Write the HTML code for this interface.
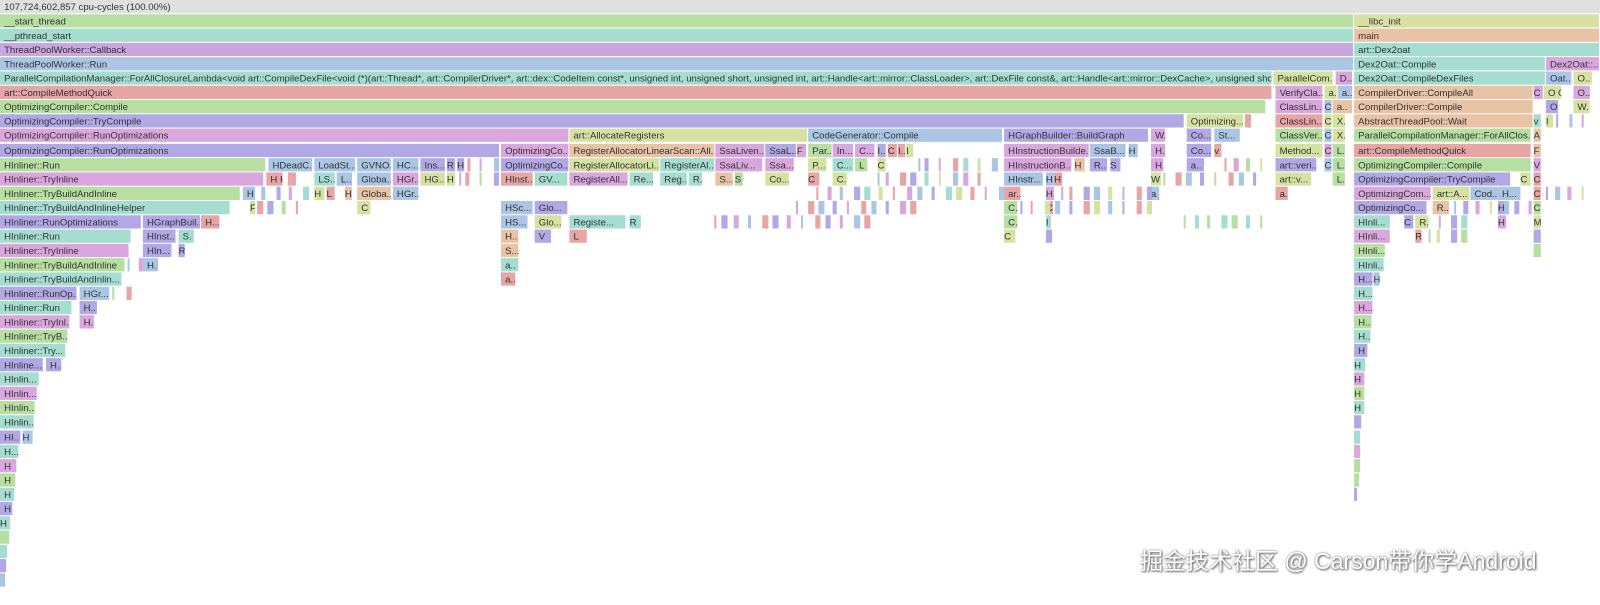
<!DOCTYPE html>
<html><head><meta charset="utf-8">
<style>
html,body{margin:0;padding:0;background:#fff;width:1600px;height:605px;overflow:hidden}
#c{position:absolute;left:0;top:0;width:1568px;height:593px;transform-origin:0 0;transform:scale(1.0204,1.0202)}
.b{position:absolute;height:13px;overflow:hidden;white-space:nowrap;font:9.4px/13px "Liberation Sans",sans-serif;color:#333;padding-left:4px;box-sizing:border-box}
#wm{position:absolute;left:1140px;top:546px;font:23px/30px "Liberation Sans","Noto Sans CJK SC",sans-serif;color:#fff;text-shadow:0 0 2px #777,1px 1px 2px #555;white-space:nowrap}
</style></head><body>
<div id="c"></div>
<div id="wm">掘金技术社区 @ Carson带你学Android</div>
<script>
var C={G:'#b6dfa1',T:'#a5ddd0',P:'#c9a6e0',B:'#aac6e4',R:'#e7a5a5',L:'#b3a8e6',Y:'#d6e2a2',O:'#e8c3a6',K:'#d9a7dd',H:'#e0e0e0'};
var D=`0|H|0|1568|107,724,602,857 cpu-cycles (100.00%)
1|G|0|1326|__start_thread
1|Y|1327|1567|__libc_init
2|T|0|1326|__pthread_start
2|O|1327|1567|main
3|P|0|1326|ThreadPoolWorker::Callback
3|T|1327|1567|art::Dex2oat
4|B|0|1326|ThreadPoolWorker::Run
4|T|1327|1514|Dex2Oat::Compile
4|K|1515|1567|Dex2Oat::...
5|T|0|1246|ParallelCompilationManager::ForAllClosureLambda<void art::CompileDexFile<void (*)(art::Thread*, art::CompilerDriver*, art::dex::CodeItem const*, unsigned int, unsigned short, unsigned int, art::Handle<art::mirror::ClassLoader>, art::DexFile const&, art::Handle<art::mirror::DexCache>, unsigned short)>(art::...
5|Y|1248|1306|ParallelCom...
5|K|1309|1325|D...
5|T|1327|1514|Dex2Oat::CompileDexFiles
5|B|1515|1540|Oat...
5|Y|1542|1560|O..
6|R|0|1246|art::CompileMethodQuick
6|K|1250|1296|VerifyCla...
6|Y|1298|1310|a..
6|B|1311|1325|a..
6|O|1327|1502|CompilerDriver::CompileAll
6|K|1503|1512|C
6|Y|1513|1530|O O
6|K|1542|1558|O...
7|G|0|1240|OptimizingCompiler::Compile
7|K|1250|1296|ClassLin...
7|B|1298|1305|C
7|O|1306|1325|a..
7|O|1327|1502|CompilerDriver::Compile
7|L|1515|1527|O
7|Y|1542|1558|W.
8|L|0|1160|OptimizingCompiler::TryCompile
8|Y|1163|1218|Optimizing...
8|R|1220|1226|
8|R|1250|1296|ClassLin...
8|Y|1298|1305|C
8|Y|1306|1318|X.
8|O|1327|1502|AbstractThreadPool::Wait
8|T|1503|1510|v
8|Y|1515|1522|I
9|K|0|557|OptimizingCompiler::RunOptimizations
9|Y|558|791|art::AllocateRegisters
9|B|792|982|CodeGenerator::Compile
9|L|984|1125|HGraphBuilder::BuildGraph
9|K|1128|1142|W.
9|L|1163|1187|Co...
9|B|1190|1215|St...
9|G|1250|1296|ClassVer...
9|B|1298|1305|C
9|Y|1306|1318|X.
9|G|1327|1500|ParallelCompilationManager::ForAllClos...
9|O|1503|1510|A
10|L|0|489|OptimizingCompiler::RunOptimizations
10|K|491|557|OptimizingCo...
10|O|558|700|RegisterAllocatorLinearScan::All...
10|K|701|749|SsaLiven...
10|L|750|780|SsaL...
10|K|781|790|F
10|G|792|815|Par...
10|K|816|836|In...
10|K|838|857|C...
10|L|860|868|I..
10|R|870|879|C
10|R|880|887|I..
10|Y|888|895|I
10|K|984|1067|HInstructionBuilde...
10|B|1068|1103|SsaB...
10|B|1106|1115|H
10|K|1128|1142|H..
10|L|1163|1187|Co...
10|R|1190|1197|v
10|Y|1250|1296|Method...
10|K|1298|1305|C
10|G|1306|1318|L.
10|R|1327|1500|art::CompileMethodQuick
10|O|1503|1510|F
11|G|0|260|HInliner::Run
11|B|263|306|HDeadC...
11|B|308|348|LoadSt...
11|B|350|383|GVNO...
11|B|385|410|HC...
11|L|412|436|Ins...
11|L|438|446|R
11|L|448|455|H
11|L|491|557|OptimizingCo...
11|Y|558|646|RegisterAllocatorLi...
11|T|647|700|RegisterAl...
11|K|701|747|SsaLiv...
11|K|750|778|Ssa...
11|Y|792|810|P...
11|T|816|836|C...
11|G|838|850|L
11|Y|860|868|C
11|K|984|1050|HInstructionB...
11|O|1053|1063|H
11|L|1068|1085|R...
11|L|1088|1098|S
11|K|1128|1140|H..
11|L|1163|1180|a..
11|L|1250|1290|art::veri...
11|B|1298|1305|C
11|G|1306|1318|L.
11|G|1327|1500|OptimizingCompiler::Compile
11|K|1503|1510|V
12|K|0|258|HInliner::TryInline
12|R|261|277|H H
12|R|282|290|
12|T|308|328|LS...
12|B|330|345|L..
12|B|350|383|Globa...
12|K|385|410|HGr...
12|Y|412|436|HG...
12|Y|438|446|H
12|R|491|522|HInst...
12|T|524|556|GV...
12|K|558|615|RegisterAll...
12|T|617|640|Re...
12|T|647|673|Reg...
12|T|675|688|R.
12|O|701|718|S...
12|G|720|728|S
12|Y|750|773|Co...
12|R|792|803|C
12|Y|816|830|C.
12|B|984|1022|HInstr...
12|B|1025|1033|H
12|R|1033|1041|H
12|Y|1128|1138|W
12|Y|1250|1285|art::v...
12|G|1306|1318|L.
12|L|1327|1480|OptimizingCompiler::TryCompile
12|Y|1490|1500|C
12|R|1503|1510|C
13|G|0|235|HInliner::TryBuildAndInline
13|B|238|250|H H
13|Y|308|318|H
13|R|320|328|L
13|O|338|345|H.
13|O|350|383|Globa...
13|B|385|410|HGr...
13|R|984|1000|ar...
13|K|1025|1033|H
13|B|1128|1136|a
13|R|1250|1262|a..
13|K|1327|1402|OptimizingCom...
13|Y|1404|1440|art::A...
13|B|1441|1468|Cod...
13|B|1468|1490|H...
13|R|1503|1510|C
14|T|0|225|HInliner::TryBuildAndInlineHelper
14|Y|245|250|F
14|Y|350|363|C
14|B|491|522|HSc...
14|L|524|556|Glo...
14|G|984|997|C...
14|R|1025|1032|C
14|L|1327|1398|OptimizingCo...
14|O|1404|1420|R...
14|L|1468|1478|H.
14|G|1503|1510|C
15|L|0|138|HInliner::RunOptimizations
15|L|140|196|HGraphBuil...
15|R|197|215|H...
15|B|491|517|HS...
15|Y|524|550|Glo...
15|T|558|613|Registe...
15|T|617|628|R
15|G|984|997|C.
15|T|1025|1030|I
15|T|1327|1362|HInli...
15|L|1376|1385|C
15|Y|1387|1400|R.
15|K|1468|1476|H
15|Y|1503|1510|M
16|T|0|128|HInliner::Run
16|L|140|172|HInst...
16|T|175|190|S.
16|O|491|508|H...
16|L|524|540|V
16|R|558|575|L
16|Y|984|995|C
16|L|1025|1031|
16|K|1327|1362|HInli...
16|R|1387|1393|R
16|L|1503|1510|
17|K|0|126|HInliner::TryInline
17|L|140|168|HIn...
17|L|175|181|R
17|O|491|508|S...
17|G|1327|1357|HInli...
17|G|1503|1510|
18|G|0|122|HInliner::TryBuildAndInline
18|B|140|155|H.
18|T|491|508|a..
18|T|1327|1356|HInli...
19|T|0|119|HInliner::TryBuildAndInlin...
19|R|491|505|a..
19|L|1327|1345|H...
19|B|1346|1352|H
20|L|0|75|HInliner::RunOp...
20|B|78|107|HGr...
20|T|1327|1345|H...
21|T|0|70|HInliner::Run
21|L|78|95|H...
21|K|1327|1345|H...
22|K|0|68|HInliner::TryInl...
22|K|78|92|H.
22|G|1327|1344|H...
23|G|0|66|HInliner::TryB...
23|T|1327|1343|H...
24|T|0|64|HInliner::Try...
24|L|1327|1340|H
25|L|0|42|HInline...
25|L|45|60|H...
25|T|1327|1338|H
26|T|0|38|HInlin...
26|K|1327|1337|H
27|K|0|36|HInlin...
27|G|1327|1337|H
28|G|0|34|HInlin...
28|T|1327|1337|H
29|T|0|33|HInlin...
29|L|1327|1334|
30|L|0|20|HI..
30|B|22|32|H
30|T|1327|1333|
31|T|0|18|H...
31|K|1327|1333|
32|K|0|16|H
32|G|1327|1333|
33|G|0|15|H
33|G|1327|1332|
34|T|0|14|H
34|L|1327|1330|
35|L|0|12|H
36|T|0|10|H
37|G|0|9|
38|T|0|7|
39|L|0|6|
40|B|0|5|`;
var c=document.getElementById('c'),h='';
D.split('\n').forEach(function(l){var p=l.split('|');var r=+p[0],x=+p[2],w=+p[3]-x;
h+='<div class="b" style="top:'+(r*14.05)+'px;left:'+x+'px;width:'+w+'px;background:'+C[p[1]]+(w<12?';padding:0':'')+'">'+p[4].replace(/&/g,'&amp;').replace(/</g,'&lt;')+'</div>';});
var sl=[[11,458,489,'RKBL'],[12,450,488,'KRGL'],[13,256,300,'BLKT'],[14,252,300,'RLG'],[12,860,960,'BKRLTY'],[13,800,980,'RKBLTY'],[14,780,900,'KRBL'],[15,700,860,'RLKB'],[11,900,980,'BLKRTY'],[13,1040,1125,'KRLBY'],[14,1000,1130,'LRYB'],[12,1140,1240,'GRBL'],[11,1200,1245,'RKGY'],[15,1160,1240,'GT'],[14,1425,1500,'BLKY'],[13,1515,1560,'LBKY'],[8,1525,1560,'LBK'],[15,1410,1440,'KLT'],[16,1400,1440,'GYL'],[18,125,140,'BKLG'],[20,110,130,'GRL']];
sl.forEach(function(s){var x=s[1],i=0;while(x<s[2]){var w=2+((x*7)%5);h+='<div class="b" style="top:'+(s[0]*14.05)+'px;left:'+x+'px;width:'+w+'px;padding:0;background:'+C[s[3][i%s[3].length]]+'"></div>';x+=w+4+((x*13)%9);i++;}});
c.innerHTML=h;
</script>
</body></html>
